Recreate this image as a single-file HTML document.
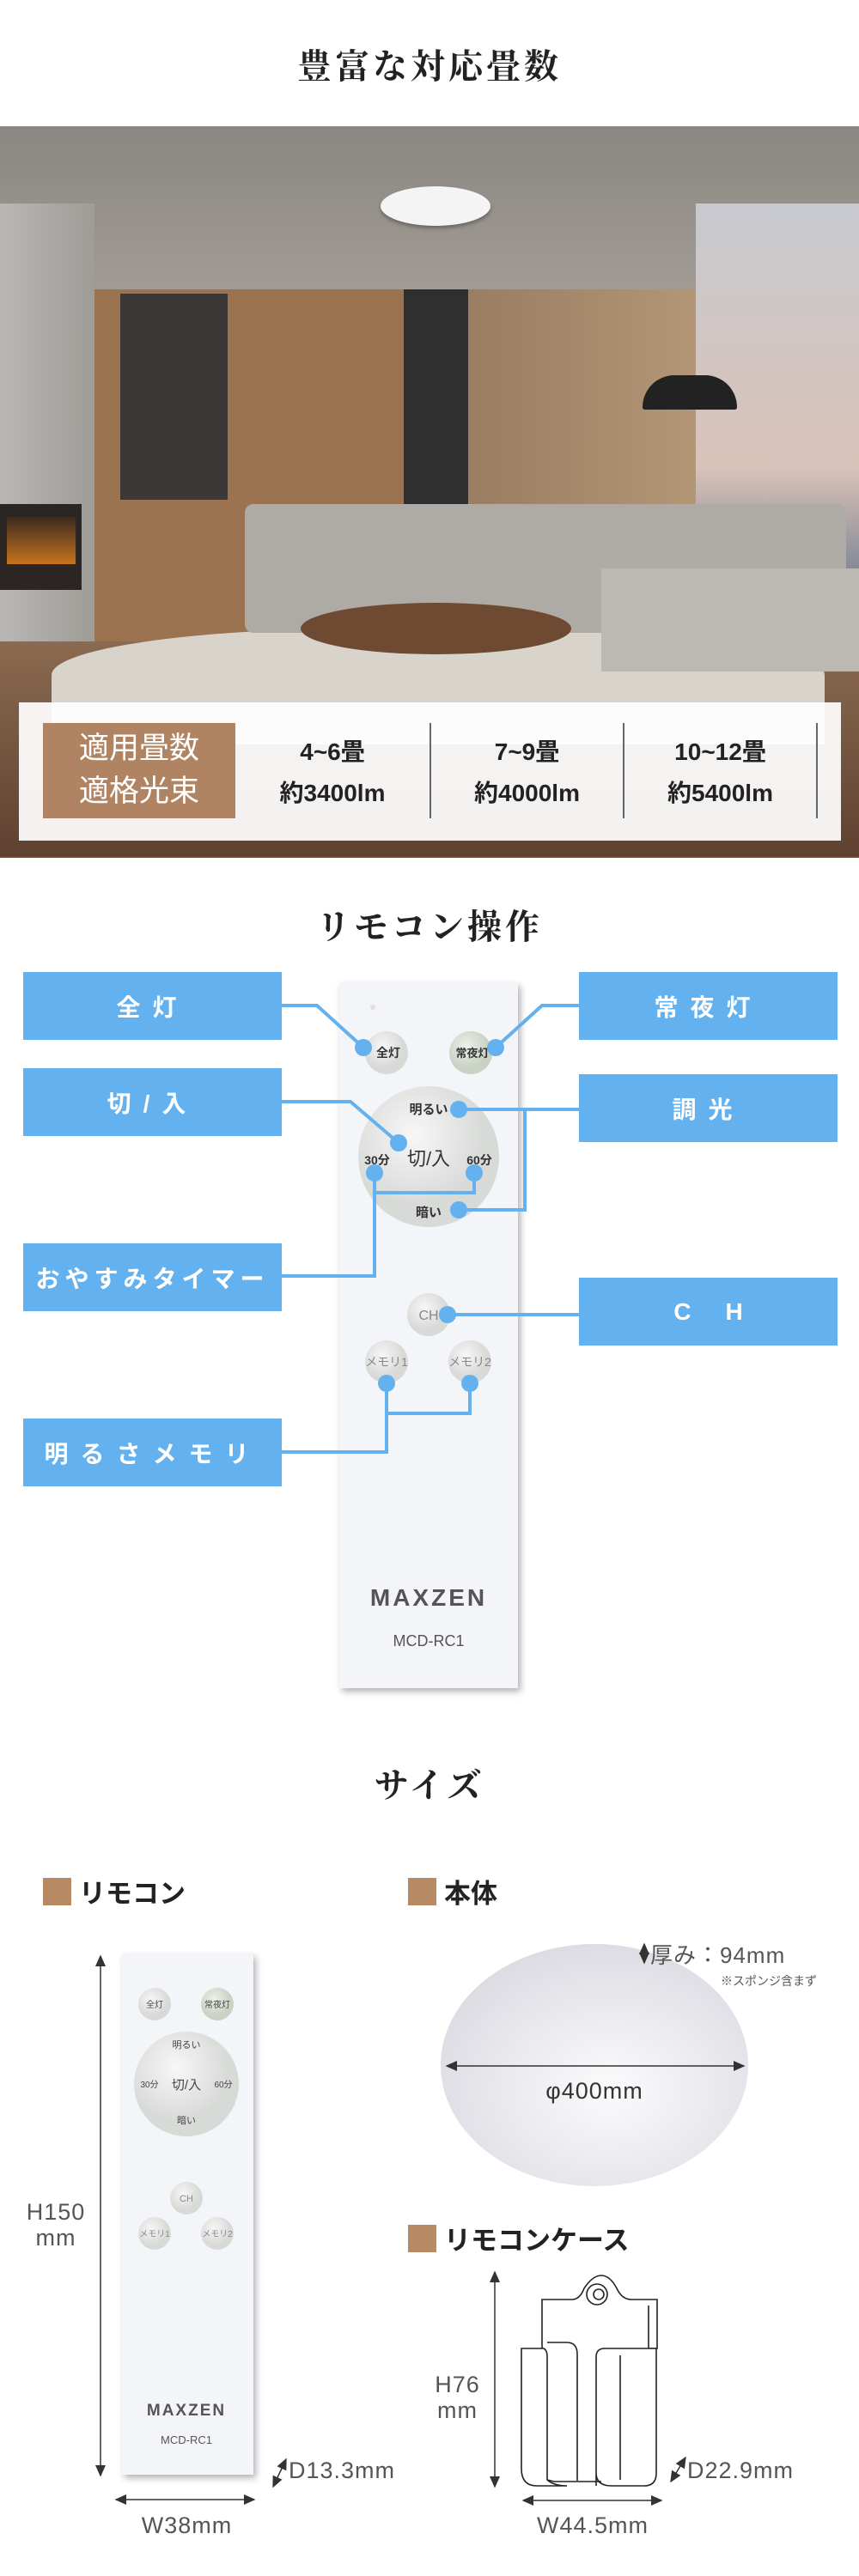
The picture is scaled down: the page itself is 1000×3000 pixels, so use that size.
<!DOCTYPE html>
<html><head><meta charset="utf-8">
<style>
*{margin:0;padding:0;box-sizing:border-box}
body{width:1000px;height:3000px;background:#fff;position:relative;overflow:hidden;font-family:"Liberation Sans","Noto Sans CJK JP",sans-serif}
.a{position:absolute}
.title{position:absolute;left:0;width:1000px;text-align:center;font-family:"Liberation Serif","Noto Serif CJK JP",serif;font-weight:bold;font-size:40px;color:#222;letter-spacing:4px}
.blue{position:absolute;background:#63b1ee;color:#fff;font-size:28px;font-weight:bold;display:flex;align-items:center;justify-content:center;letter-spacing:14px}
.hd{position:absolute;font-size:31px;font-weight:bold;color:#222;display:flex;align-items:center}
.hd i{display:inline-block;width:33px;height:32px;background:#b88a64;margin-right:9px}
.dim{position:absolute;color:#555;font-size:27px;letter-spacing:1px;text-align:center;line-height:30px}
</style></head><body>

<div class="title" style="top:46px">豊富な対応畳数</div>

<!-- photo -->
<div class="a" style="left:0;top:147px;width:1000px;height:852px;overflow:hidden;background:#6a4c36">
  <div class="a" style="left:0;top:0;width:1000px;height:200px;background:linear-gradient(#8a8681,#a29c95)"></div>
  <div class="a" style="left:0;top:90px;width:110px;height:660px;background:linear-gradient(90deg,#b9b7b3,#9f9c98)"></div>
  <div class="a" style="left:110px;top:190px;width:360px;height:500px;background:#9b7350"></div>
  <div class="a" style="left:140px;top:195px;width:125px;height:240px;background:#3b3836"></div>
  <div class="a" style="left:470px;top:190px;width:75px;height:440px;background:#2f2f30"></div>
  <div class="a" style="left:545px;top:190px;width:265px;height:440px;background:linear-gradient(90deg,#9a7d62,#b39676)"></div>
  <div class="a" style="left:810px;top:90px;width:190px;height:560px;background:linear-gradient(#c7c9cf,#d9c2b8 55%,#8a8d99 75%,#5d5f68)"></div>
  <div class="a" style="left:0;top:440px;width:95px;height:100px;background:#2b2624"></div>
  <div class="a" style="left:8px;top:455px;width:80px;height:55px;background:linear-gradient(#3a2a20,#c8741e)"></div>
  <div class="a" style="left:0;top:600px;width:1000px;height:250px;background:linear-gradient(#8a6a50,#5e4130)"></div>
  <div class="a" style="left:60px;top:585px;width:900px;height:135px;background:#d8d3cb;border-radius:40% 40% 0 0"></div>
  <div class="a" style="left:285px;top:440px;width:700px;height:150px;background:#aeaaa6;border-radius:10px"></div>
  <div class="a" style="left:700px;top:515px;width:300px;height:120px;background:#bcb8b3"></div>
  <div class="a" style="left:350px;top:555px;width:315px;height:60px;background:#6e4a32;border-radius:50%"></div>
  <div class="a" style="left:748px;top:290px;width:110px;height:40px;background:#222;border-radius:55px 55px 4px 4px"></div>
</div>
<div class="a" style="left:443px;top:217px;width:128px;height:46px;background:#f4f4f4;border-radius:50%;box-shadow:0 3px 4px rgba(0,0,0,.3)"></div>
<!-- table panel -->
<div class="a" style="left:22px;top:818px;width:957px;height:161px;background:rgba(255,255,255,.93)"></div>
<div class="a" style="left:50px;top:842px;width:224px;height:111px;background:#b08462;color:#fff;font-size:35px;line-height:50px;text-align:center;padding-top:5px">適用畳数<br>適格光束</div>
<div class="a" style="left:500px;top:842px;width:2px;height:111px;background:#666"></div>
<div class="a" style="left:725px;top:842px;width:2px;height:111px;background:#666"></div>
<div class="a" style="left:950px;top:842px;width:2px;height:111px;background:#666"></div>
<div class="a" style="left:274px;top:852px;width:226px;text-align:center;font-size:28px;font-weight:bold;line-height:48px;color:#222">4~6畳<br>約3400lm</div>
<div class="a" style="left:502px;top:852px;width:223px;text-align:center;font-size:28px;font-weight:bold;line-height:48px;color:#222">7~9畳<br>約4000lm</div>
<div class="a" style="left:727px;top:852px;width:223px;text-align:center;font-size:28px;font-weight:bold;line-height:48px;color:#222">10~12畳<br>約5400lm</div>

<!-- Section 2 -->
<div class="title" style="top:1048px">リモコン操作</div>
<div class="blue" style="left:27px;top:1132px;width:301px;height:79px">全灯</div>
<div class="blue" style="left:27px;top:1244px;width:301px;height:79px">切/入</div>
<div class="blue" style="left:27px;top:1448px;width:301px;height:79px;letter-spacing:6px">おやすみタイマー</div>
<div class="blue" style="left:27px;top:1652px;width:301px;height:79px">明るさメモリ</div>
<div class="blue" style="left:674px;top:1132px;width:301px;height:79px">常夜灯</div>
<div class="blue" style="left:674px;top:1251px;width:301px;height:79px">調光</div>
<div class="blue" style="left:674px;top:1488px;width:301px;height:79px;letter-spacing:40px;padding-left:40px">CH</div>

<svg class="a" style="left:0;top:0" width="1000" height="3000">
 <defs><filter id="sh"><feDropShadow dx="3" dy="4" stdDeviation="4" flood-opacity=".3"/></filter>
 <radialGradient id="bt" cx=".4" cy=".35"><stop offset="0" stop-color="#f6f7f6"/><stop offset="1" stop-color="#d8dad8"/></radialGradient>
 <radialGradient id="bg" cx=".4" cy=".35"><stop offset="0" stop-color="#eef1ea"/><stop offset="1" stop-color="#c9d2c4"/></radialGradient>
 <radialGradient id="lamp" cx=".55" cy=".6" r=".6"><stop offset="0" stop-color="#fbfbfd"/><stop offset="1" stop-color="#dcdde3"/></radialGradient>
 <marker id="ar" markerWidth="10" markerHeight="10" refX="8" refY="5" orient="auto-start-reverse"><path d="M0,1 L9,5 L0,9 Z" fill="#333"/></marker></defs>
 <!-- remote large -->
 <rect x="395" y="1144" width="208" height="822" fill="#f4f5f8" filter="url(#sh)"/>
 <circle cx="434" cy="1173" r="3" fill="#e0e0e0"/>
 <circle cx="450" cy="1226" r="25" fill="url(#bt)"/>
 <circle cx="548" cy="1226" r="25" fill="url(#bg)"/>
 <circle cx="499" cy="1347" r="82" fill="url(#bt)"/>
 <circle cx="499" cy="1531" r="25" fill="url(#bt)"/>
 <circle cx="450" cy="1586" r="25" fill="url(#bt)"/>
 <circle cx="547" cy="1586" r="25" fill="url(#bt)"/>
 <g font-family="Liberation Sans,Noto Sans CJK JP,sans-serif" fill="#333" text-anchor="middle" font-weight="bold">
  <text x="452" y="1231" font-size="14">全灯</text><text x="550" y="1231" font-size="13">常夜灯</text>
  <text x="499" y="1297" font-size="15">明るい</text><text x="499" y="1357" font-size="22" font-weight="normal">切/入</text>
  <text x="439" y="1356" font-size="14">30分</text><text x="558" y="1356" font-size="14">60分</text>
  <text x="499" y="1417" font-size="15">暗い</text>
  <text x="499" y="1537" font-size="16" font-weight="normal" fill="#888">CH</text>
  <text x="450" y="1591" font-size="14" font-weight="normal" fill="#888">メモリ1</text><text x="547" y="1591" font-size="14" font-weight="normal" fill="#888">メモリ2</text>
  <text x="499" y="1870" font-size="28" fill="#555" letter-spacing="3">MAXZEN</text>
  <text x="499" y="1917" font-size="18" font-weight="normal" fill="#555">MCD-RC1</text>
 </g>
 <!-- connectors -->
 <g stroke="#63b1ee" stroke-width="4" fill="none">
  <polyline points="328,1171 369,1171 423,1220"/>
  <polyline points="674,1171 631,1171 577,1220"/>
  <polyline points="328,1283 408,1283 464,1331"/>
  <polyline points="674,1292 611,1292 611,1409 534,1409"/>
  <polyline points="611,1292 534,1292"/>
  <polyline points="328,1486 436,1486 436,1366"/>
  <polyline points="436,1389 552,1389 552,1366"/>
  <polyline points="674,1531 521,1531"/>
  <polyline points="328,1691 450,1691 450,1611"/>
  <polyline points="450,1646 547,1646 547,1611"/>
 </g>
 <g fill="#63b1ee">
  <circle cx="423" cy="1220" r="10"/><circle cx="577" cy="1220" r="10"/><circle cx="464" cy="1331" r="10"/>
  <circle cx="534" cy="1292" r="10"/><circle cx="534" cy="1409" r="10"/><circle cx="436" cy="1366" r="10"/>
  <circle cx="552" cy="1366" r="10"/><circle cx="521" cy="1531" r="10"/><circle cx="450" cy="1611" r="10"/><circle cx="547" cy="1611" r="10"/>
 </g>

 <!-- small remote -->
 <rect x="142" y="2275" width="153" height="607" fill="#f4f5f8" filter="url(#sh)"/>
 <circle cx="180" cy="2334" r="19" fill="url(#bt)"/><circle cx="253" cy="2334" r="19" fill="url(#bg)"/>
 <circle cx="217" cy="2427" r="61" fill="url(#bt)"/>
 <circle cx="217" cy="2560" r="19" fill="url(#bt)"/>
 <circle cx="180" cy="2601" r="19" fill="url(#bt)"/><circle cx="253" cy="2601" r="19" fill="url(#bt)"/>
 <g font-family="Liberation Sans,Noto Sans CJK JP,sans-serif" fill="#444" text-anchor="middle">
  <text x="180" y="2338" font-size="10">全灯</text><text x="253" y="2338" font-size="10">常夜灯</text>
  <text x="217" y="2385" font-size="11">明るい</text><text x="217" y="2433" font-size="15">切/入</text>
  <text x="174" y="2431" font-size="10">30分</text><text x="260" y="2431" font-size="10">60分</text>
  <text x="217" y="2473" font-size="11">暗い</text>
  <text x="217" y="2564" font-size="11" fill="#888">CH</text>
  <text x="180" y="2605" font-size="10" fill="#888">メモリ1</text><text x="253" y="2605" font-size="10" fill="#888">メモリ2</text>
  <text x="217" y="2813" font-size="19" fill="#555" font-weight="bold" letter-spacing="2">MAXZEN</text>
  <text x="217" y="2846" font-size="13" fill="#555">MCD-RC1</text>
 </g>
 <!-- body lamp -->
 <ellipse cx="692" cy="2405" rx="179" ry="141" fill="url(#lamp)"/>
 <g stroke="#333" stroke-width="1.5" marker-start="url(#ar)" marker-end="url(#ar)">
  <line x1="117" y1="2278" x2="117" y2="2883"/>
  <line x1="135" y1="2911" x2="296" y2="2911"/>
  <line x1="318" y1="2896" x2="333" y2="2864"/>
  <line x1="576" y1="2646" x2="576" y2="2896"/>
  <line x1="609" y1="2912" x2="770" y2="2912"/>
  <line x1="781" y1="2890" x2="798" y2="2862"/>
  <line x1="520" y1="2406" x2="866" y2="2406"/>
  <line x1="750" y1="2264" x2="750" y2="2286"/>
 </g>
 <!-- case drawing -->
 <g stroke="#222" stroke-width="1.6" fill="#fff">
  <path d="M631,2895 L631,2678 L666,2678 Q675,2678 680,2665 Q690,2650 700,2650 Q710,2650 718,2665 Q724,2678 735,2678 L765,2678 L765,2735 L755,2735 L755,2685"/>
  <path d="M607,2735 L633,2735 Q637,2737 637,2745 L637,2888 Q645,2895 660,2895 L625,2895 Q607,2895 607,2875 Z"/>
  <path d="M637,2728 L660,2728 Q672,2728 672,2742 L672,2890"/>
  <path d="M694,2895 L694,2745 Q694,2735 704,2735 L764,2735 L764,2880 Q764,2895 750,2895 L712,2895 Q694,2895 694,2880"/>
  <path d="M637,2888 L645,2890 L700,2890"/>
  <circle cx="695" cy="2672" r="12"/><circle cx="697" cy="2672" r="6"/>
  <line x1="722" y1="2743" x2="722" y2="2888"/>
 </g>
</svg>

<!-- Section 3 -->
<div class="title" style="top:2048px">サイズ</div>
<div class="hd" style="left:50px;top:2180px"><i></i>リモコン</div>
<div class="hd" style="left:475px;top:2180px"><i></i>本体</div>
<div class="hd" style="left:475px;top:2584px"><i></i>リモコンケース</div>
<div class="dim" style="left:20px;top:2561px;width:90px">H150<br>mm</div>
<div class="dim" style="left:130px;top:2926px;width:175px">W38mm</div>
<div class="dim" style="left:336px;top:2862px;text-align:left">D13.3mm</div>
<div class="dim" style="left:490px;top:2762px;width:85px">H76<br>mm</div>
<div class="dim" style="left:600px;top:2926px;width:180px">W44.5mm</div>
<div class="dim" style="left:800px;top:2862px;text-align:left">D22.9mm</div>
<div class="dim" style="left:592px;top:2420px;width:200px;color:#333">φ400mm</div>
<div class="dim" style="left:757px;top:2262px;text-align:left;font-size:26px">厚み：94mm</div>
<div class="a" style="left:839px;top:2297px;font-size:14px;color:#555">※スポンジ含まず</div>
</body></html>
